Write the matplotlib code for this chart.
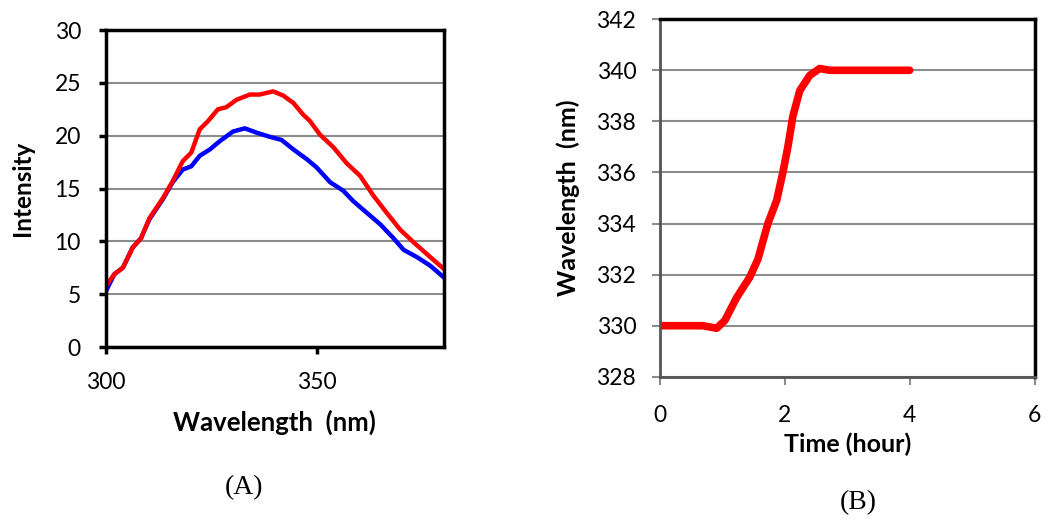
import numpy as np
import matplotlib.pyplot as plt

# Panel A: emission spectra
wl_red = [300, 302, 304, 306.3, 308.3, 310.3, 313.5, 315.8, 318.2, 320.2, 322.2, 324.2,
          326.5, 328.5, 330.9, 334.1, 336.4, 339.6, 342, 344.4, 346.7, 348.3, 350.7,
          353.9, 357, 360.2, 363.4, 366.5, 369.7, 372.9, 376, 380]
int_red = [5.8, 6.9, 7.5, 9.4, 10.3, 12.2, 14.1, 15.7, 17.6, 18.4, 20.6, 21.4,
           22.5, 22.7, 23.4, 23.9, 23.9, 24.2, 23.8, 23.1, 22.0, 21.4, 20.1,
           18.9, 17.4, 16.2, 14.3, 12.7, 11.1, 9.9, 8.8, 7.4]

wl_blue = [300, 302, 304, 306.3, 308.3, 310.3, 313.5, 315.8, 318.2, 320.2, 322.2, 324.6,
           327, 330.1, 332.9, 335.6, 338.8, 341.6, 344.4, 347.5, 349.9, 353.1, 356.2,
           358.6, 361.8, 365, 368.1, 370.5, 373.7, 376.8, 380]
int_blue = [5.3, 6.9, 7.5, 9.4, 10.3, 12.1, 14.0, 15.6, 16.8, 17.1, 18.1, 18.7,
            19.5, 20.4, 20.7, 20.3, 19.9, 19.6, 18.7, 17.8, 17.0, 15.6, 14.8,
            13.8, 12.7, 11.6, 10.3, 9.2, 8.5, 7.7, 6.6]

# Panel B: peak wavelength vs time
time_h = [0, 0.69, 0.91, 1.04, 1.23, 1.44, 1.57, 1.73, 1.87, 1.97, 2.05, 2.13,
          2.24, 2.4, 2.56, 2.72, 4.0]
peak_wl = [330, 330, 329.9, 330.2, 331.1, 331.9, 332.6, 334.0, 334.9, 336, 337, 338.2,
           339.2, 339.8, 340.07, 340, 340]

plt.rcParams['font.family'] = ['Lato', 'DejaVu Sans']

fig = plt.figure(figsize=(10.44, 5.19), dpi=100)

grid_col = '#8c8c8c'

# --- (A) ---
axA = fig.add_axes([0.1015, 0.3314, 0.3235, 0.6106])
axA.plot(wl_blue, int_blue, color='#0000ff', lw=3.2, solid_joinstyle='round')
axA.plot(wl_red, int_red, color='#ff0000', lw=3.2, solid_joinstyle='round')
axA.set_xlim(300, 380)
axA.set_ylim(0, 30)
axA.set_xticks([300, 350])
axA.set_yticks(range(0, 31, 5))
axA.yaxis.grid(True, color=grid_col, lw=1.5)
axA.set_axisbelow(True)
for s in axA.spines.values():
    s.set_linewidth(2.5)
    s.set_color('black')
axA.tick_params(length=5, width=2.5, labelsize=16.5, pad=13)
axA.set_xlabel('Wavelength  (nm)', fontsize=18.5, fontweight='bold', labelpad=12)
axA.set_ylabel('Intensity', fontsize=17.5, fontweight='bold', labelpad=15)

# --- (B) ---
axB = fig.add_axes([0.632, 0.274, 0.359, 0.689])
axB.plot(time_h, peak_wl, color='#ff0000', lw=5.5, solid_capstyle='round',
         solid_joinstyle='round')
axB.set_xlim(0, 6)
axB.set_ylim(328, 342)
axB.set_xticks(range(0, 7, 2))
axB.set_yticks(range(328, 343, 2))
axB.yaxis.grid(True, color=grid_col, lw=1.5)
axB.set_axisbelow(True)
for side in ['top', 'right']:
    axB.spines[side].set_linewidth(2.5)
    axB.spines[side].set_color('black')
for side in ['left', 'bottom']:
    axB.spines[side].set_linewidth(2)
    axB.spines[side].set_color('#555555')
axB.tick_params(axis='y', length=6, width=1.5, color=grid_col, labelsize=16.5, pad=11)
axB.tick_params(axis='x', length=6, width=1.5, color=grid_col, labelsize=16.5, pad=14)
axB.set_xlabel('Time (hour)', fontsize=18, fontweight='bold', labelpad=5)
axB.set_ylabel('Wavelength  (nm)', fontsize=18, fontweight='bold', labelpad=12)

fig.text(244 / 1044, 1 - 488 / 519, '(A)', family='Liberation Serif', fontsize=20,
         ha='center', va='center')
fig.text(858 / 1044, 1 - 503 / 519, '(B)', family='Liberation Serif', fontsize=20,
         ha='center', va='center')

fig.savefig('out.png', dpi=100)
